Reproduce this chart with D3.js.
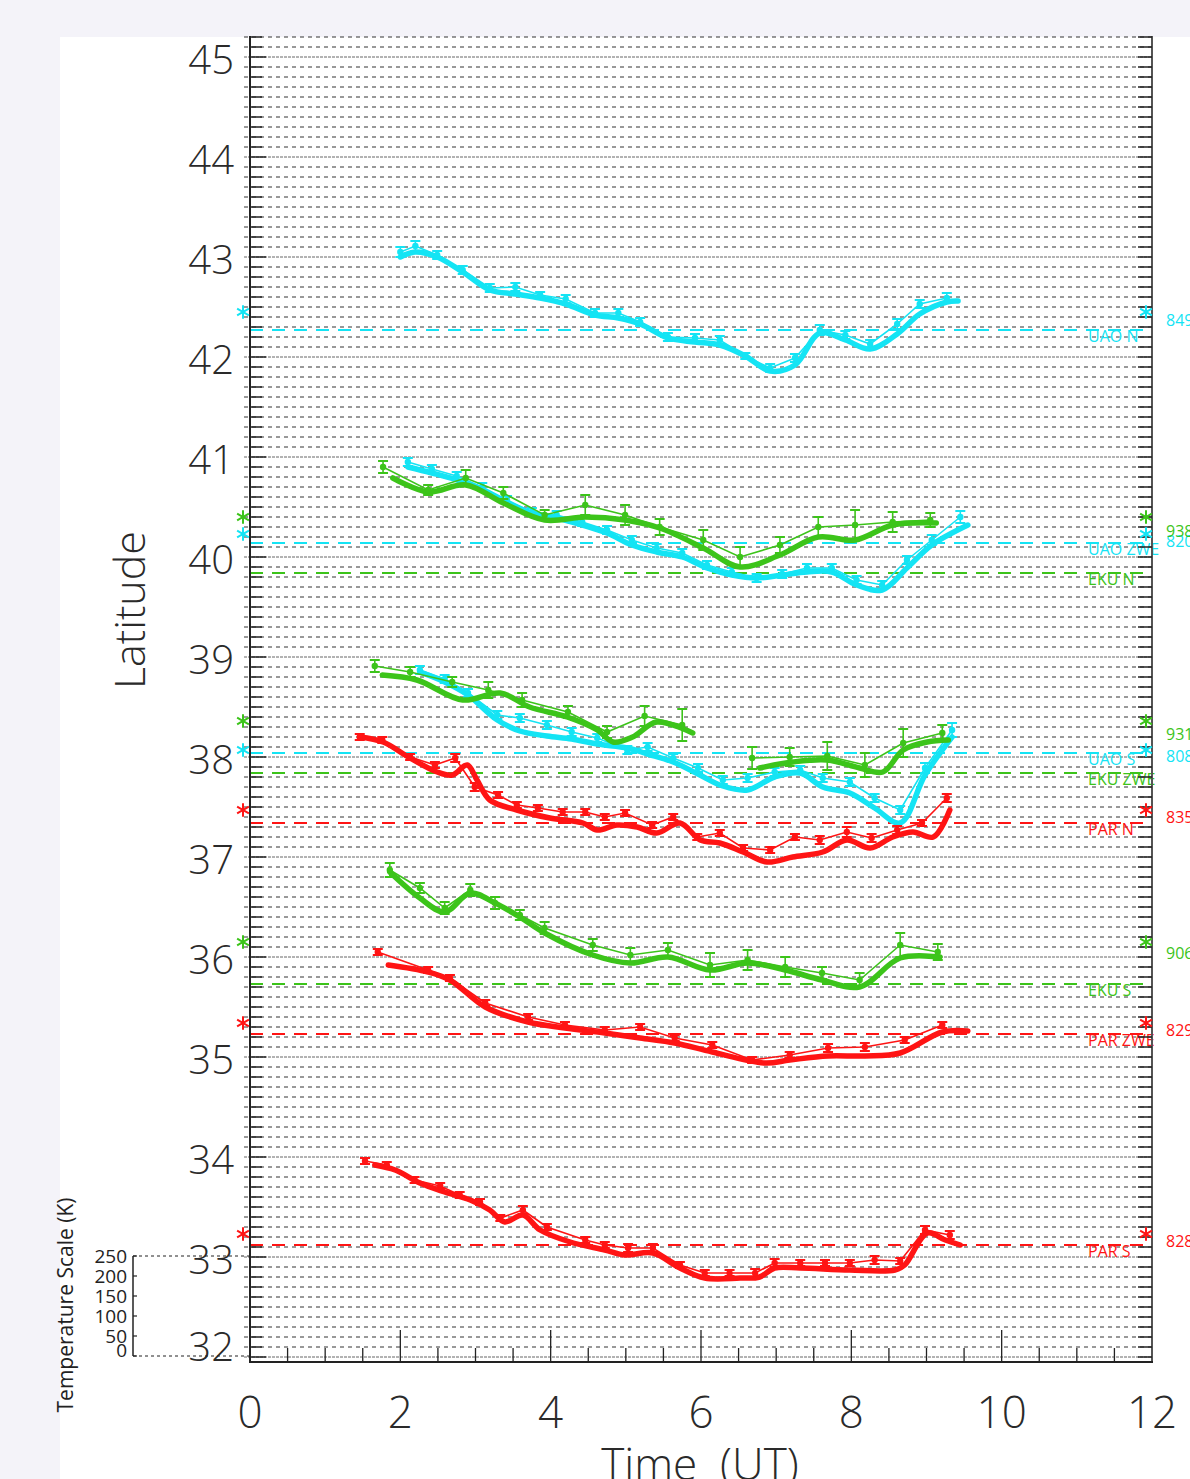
<!DOCTYPE html>
<html>
<head>
<meta charset="utf-8">
<script src="https://cdn.jsdelivr.net/npm/d3@7"></script>
<style>
  body { margin: 0; background: #f4f3f9; }
  svg { display: block; }
</style>
</head>
<body>
<div id="main-section"></div>
<script>
// ---- data (time in UT hours, latitude in degrees) ----
const xTicks = [0, 2, 4, 6, 8, 10, 12];
const yTicks = [32, 33, 34, 35, 36, 37, 38, 39, 40, 41, 42, 43, 44, 45];
const tempTicks = [0, 50, 100, 150, 200, 250];

const stationNames = ["UAO N", "UAO ZWE", "EKU N", "UAO S", "EKU ZWE", "PAR N", "EKU S", "PAR ZWE", "PAR S"];
const stationColors = ["cyan", "cyan", "green", "cyan", "green", "red", "green", "red", "red"];
const stationLat = [42.27, 40.14, 39.84, 38.04, 37.84, 37.34, 35.73, 35.23, 33.12];
const starLat = [42.45, 40.23, 40.40, 38.07, 38.36, 37.47, 36.15, 35.34, 33.23];
const tempValues = ["849", "820", "938", "808", "931", "835", "906", "829", "828"];
const tempLabelLat = [42.37, 40.16, 40.26, 38.01, 38.23, 37.40, 36.04, 35.27, 33.16];

// UAO N
const uaoN_t   = [2.00, 2.20, 2.49, 2.83, 3.19, 3.53, 3.86, 4.20, 4.59, 4.90, 5.19, 5.56, 5.92, 6.25, 6.59, 6.92, 7.25, 7.58, 7.92, 8.25, 8.61, 8.91, 9.27];
const uaoN_lat = [43.05, 43.11, 43.02, 42.87, 42.69, 42.70, 42.62, 42.58, 42.44, 42.44, 42.35, 42.20, 42.19, 42.17, 42.01, 41.89, 41.99, 42.27, 42.22, 42.13, 42.33, 42.53, 42.59];
const uaoN_err = [0.05, 0.05, 0.04, 0.04, 0.04, 0.04, 0.03, 0.04, 0.04, 0.04, 0.04, 0.04, 0.04, 0.04, 0.03, 0.04, 0.04, 0.05, 0.04, 0.04, 0.05, 0.04, 0.05];
const uaoN_fitT = [2.00, 2.20, 2.49, 2.83, 3.19, 3.53, 3.86, 4.20, 4.59, 4.90, 5.19, 5.56, 5.92, 6.25, 6.59, 6.92, 7.25, 7.58, 7.92, 8.25, 8.61, 8.91, 9.27, 9.42];
const uaoN_fit  = [43.00, 43.05, 43.00, 42.85, 42.67, 42.63, 42.59, 42.53, 42.42, 42.39, 42.33, 42.19, 42.15, 42.12, 42.01, 41.86, 41.92, 42.24, 42.17, 42.08, 42.23, 42.43, 42.55, 42.56];

// UAO ZWE
const uaoZ_t   = [2.10, 2.42, 2.75, 3.09, 3.42, 3.75, 4.08, 4.42, 4.75, 5.08, 5.41, 5.75, 6.08, 6.41, 6.74, 7.08, 7.41, 7.74, 8.07, 8.41, 8.74, 9.07, 9.45];
const uaoZ_lat = [40.95, 40.88, 40.81, 40.70, 40.57, 40.45, 40.42, 40.35, 40.27, 40.17, 40.09, 40.04, 39.92, 39.85, 39.79, 39.83, 39.89, 39.89, 39.77, 39.72, 39.97, 40.17, 40.40];
const uaoZ_err = [0.04, 0.04, 0.04, 0.04, 0.04, 0.04, 0.04, 0.04, 0.04, 0.04, 0.04, 0.04, 0.04, 0.04, 0.04, 0.04, 0.04, 0.04, 0.04, 0.04, 0.04, 0.05, 0.06];
const uaoZ_fitT = [2.10, 2.42, 2.75, 3.09, 3.42, 3.75, 4.08, 4.42, 4.75, 5.08, 5.41, 5.75, 6.08, 6.41, 6.74, 7.08, 7.41, 7.74, 8.07, 8.41, 8.74, 9.07, 9.55];
const uaoZ_fit  = [40.90, 40.84, 40.77, 40.67, 40.54, 40.44, 40.39, 40.32, 40.24, 40.12, 40.05, 40.00, 39.89, 39.82, 39.79, 39.82, 39.85, 39.85, 39.72, 39.67, 39.89, 40.12, 40.32];

// EKU N
const ekuN_t   = [1.77, 2.37, 2.87, 3.37, 3.92, 4.46, 4.99, 5.45, 6.03, 6.52, 7.05, 7.56, 8.05, 8.55, 9.05];
const ekuN_lat = [40.90, 40.67, 40.79, 40.64, 40.42, 40.52, 40.42, 40.30, 40.17, 40.00, 40.12, 40.30, 40.32, 40.35, 40.37];
const ekuN_err = [0.06, 0.05, 0.08, 0.06, 0.05, 0.10, 0.10, 0.08, 0.10, 0.10, 0.08, 0.10, 0.15, 0.10, 0.07];
const ekuN_fitT = [1.90, 2.37, 2.87, 3.37, 3.92, 4.46, 4.99, 5.45, 6.03, 6.52, 7.05, 7.56, 8.05, 8.55, 9.13];
const ekuN_fit  = [40.79, 40.65, 40.72, 40.54, 40.37, 40.40, 40.37, 40.29, 40.09, 39.90, 40.02, 40.20, 40.17, 40.32, 40.34];

// UAO S
const uaoS_t   = [2.26, 2.59, 2.90, 3.29, 3.59, 3.95, 4.28, 4.62, 5.02, 5.29, 5.63, 5.96, 6.29, 6.62, 6.98, 7.32, 7.62, 7.98, 8.31, 8.65, 8.98, 9.34];
const uaoS_lat = [38.87, 38.78, 38.64, 38.42, 38.39, 38.32, 38.25, 38.19, 38.07, 38.10, 37.99, 37.89, 37.77, 37.79, 37.85, 37.87, 37.79, 37.75, 37.59, 37.47, 37.89, 38.27];
const uaoS_err = [0.04, 0.04, 0.04, 0.04, 0.04, 0.04, 0.04, 0.04, 0.04, 0.04, 0.04, 0.04, 0.04, 0.04, 0.04, 0.04, 0.04, 0.04, 0.04, 0.04, 0.05, 0.07];
const uaoS_fitT = [2.26, 2.59, 2.90, 3.29, 3.59, 3.95, 4.28, 4.62, 5.02, 5.29, 5.63, 5.96, 6.29, 6.62, 6.98, 7.32, 7.62, 7.98, 8.31, 8.65, 8.98, 9.34];
const uaoS_fit  = [38.85, 38.75, 38.62, 38.37, 38.26, 38.21, 38.18, 38.13, 38.09, 38.03, 37.95, 37.83, 37.71, 37.67, 37.80, 37.84, 37.70, 37.64, 37.49, 37.34, 37.82, 38.20];

// EKU ZWE (two pieces, data gap near 6.3 UT)
const ekuZa_t   = [1.66, 2.13, 2.69, 3.17, 3.62, 4.23, 4.75, 5.25, 5.75];
const ekuZa_lat = [38.91, 38.85, 38.75, 38.67, 38.57, 38.45, 38.25, 38.41, 38.32];
const ekuZa_err = [0.06, 0.05, 0.05, 0.08, 0.07, 0.06, 0.06, 0.10, 0.16];
const ekuZa_fitT = [1.76, 2.22, 2.83, 3.33, 3.72, 4.22, 4.62, 4.83, 5.09, 5.41, 5.89];
const ekuZa_fit  = [38.82, 38.77, 38.57, 38.64, 38.50, 38.40, 38.27, 38.15, 38.20, 38.35, 38.24];
const ekuZb_t   = [6.68, 7.18, 7.68, 8.18, 8.69, 9.21];
const ekuZb_lat = [37.99, 38.00, 38.01, 37.92, 38.14, 38.24];
const ekuZb_err = [0.11, 0.09, 0.14, 0.12, 0.14, 0.08];
const ekuZb_fitT = [6.78, 7.22, 7.68, 8.11, 8.42, 8.69, 9.01, 9.29];
const ekuZb_fit  = [37.89, 37.95, 37.97, 37.89, 37.85, 38.07, 38.15, 38.17];

// PAR N
const parN_t   = [1.46, 1.76, 2.13, 2.46, 2.73, 2.99, 3.30, 3.55, 3.83, 4.16, 4.46, 4.72, 4.99, 5.35, 5.63, 5.95, 6.25, 6.56, 6.92, 7.25, 7.58, 7.94, 8.27, 8.61, 8.94, 9.27];
const parN_lat = [38.20, 38.17, 38.00, 37.92, 37.99, 37.70, 37.62, 37.52, 37.49, 37.45, 37.45, 37.40, 37.44, 37.32, 37.40, 37.20, 37.24, 37.09, 37.07, 37.20, 37.17, 37.25, 37.19, 37.27, 37.34, 37.59];
const parN_err = [0.03, 0.03, 0.03, 0.03, 0.04, 0.04, 0.03, 0.03, 0.03, 0.03, 0.03, 0.03, 0.03, 0.03, 0.03, 0.03, 0.03, 0.03, 0.03, 0.03, 0.04, 0.05, 0.04, 0.04, 0.03, 0.04];
const parN_fitT = [1.46, 1.77, 2.13, 2.49, 2.69, 2.89, 3.02, 3.19, 3.55, 3.99, 4.43, 4.62, 4.88, 5.15, 5.41, 5.72, 5.99, 6.25, 6.56, 6.88, 7.22, 7.62, 7.94, 8.25, 8.55, 8.82, 9.09, 9.31];
const parN_fit  = [38.20, 38.15, 37.99, 37.85, 37.82, 37.92, 37.77, 37.57, 37.47, 37.39, 37.34, 37.27, 37.32, 37.30, 37.24, 37.34, 37.17, 37.14, 37.05, 36.95, 37.00, 37.05, 37.17, 37.09, 37.20, 37.25, 37.20, 37.47];

// EKU S
const ekuS_t   = [1.86, 2.26, 2.59, 2.93, 3.26, 3.59, 3.92, 4.56, 5.06, 5.56, 6.12, 6.62, 7.12, 7.61, 8.11, 8.65, 9.15];
const ekuS_lat = [36.87, 36.69, 36.49, 36.67, 36.54, 36.42, 36.29, 36.12, 36.02, 36.07, 35.92, 35.97, 35.90, 35.84, 35.77, 36.12, 36.05];
const ekuS_err = [0.07, 0.05, 0.06, 0.06, 0.06, 0.05, 0.06, 0.06, 0.07, 0.07, 0.12, 0.10, 0.10, 0.06, 0.07, 0.12, 0.08];
const ekuS_fitT = [1.86, 2.26, 2.59, 2.93, 3.26, 3.59, 3.92, 4.56, 5.06, 5.56, 6.12, 6.62, 7.12, 7.61, 8.11, 8.65, 9.18];
const ekuS_fit  = [36.85, 36.59, 36.45, 36.64, 36.54, 36.40, 36.24, 36.02, 35.94, 36.00, 35.87, 35.94, 35.87, 35.77, 35.70, 35.99, 36.00];

// PAR ZWE
const parZ_t   = [1.70, 2.37, 2.66, 3.13, 3.70, 4.19, 4.72, 5.19, 5.65, 6.15, 6.68, 7.18, 7.69, 8.18, 8.71, 9.21];
const parZ_lat = [36.05, 35.87, 35.79, 35.54, 35.40, 35.32, 35.27, 35.30, 35.19, 35.12, 34.97, 35.02, 35.09, 35.10, 35.17, 35.32];
const parZ_err = [0.03, 0.03, 0.03, 0.03, 0.03, 0.03, 0.03, 0.03, 0.03, 0.03, 0.03, 0.03, 0.04, 0.04, 0.03, 0.03];
const parZ_fitT = [1.84, 2.37, 2.66, 3.13, 3.70, 4.19, 4.72, 5.19, 5.65, 6.15, 6.85, 7.18, 7.69, 8.18, 8.65, 9.21, 9.55];
const parZ_fit  = [35.92, 35.85, 35.77, 35.50, 35.35, 35.29, 35.24, 35.19, 35.14, 35.05, 34.94, 34.97, 35.01, 35.01, 35.04, 35.25, 35.26];

// PAR S
const parS_t   = [1.53, 1.82, 2.19, 2.53, 2.79, 3.06, 3.33, 3.63, 3.95, 4.46, 4.72, 5.03, 5.36, 5.72, 6.05, 6.38, 6.72, 6.98, 7.32, 7.65, 7.98, 8.31, 8.65, 8.98, 9.31];
const parS_lat = [33.96, 33.92, 33.77, 33.71, 33.62, 33.55, 33.39, 33.47, 33.30, 33.17, 33.12, 33.09, 33.09, 32.92, 32.84, 32.84, 32.84, 32.94, 32.94, 32.94, 32.94, 32.97, 32.96, 33.27, 33.22];
const parS_err = [0.03, 0.03, 0.03, 0.03, 0.03, 0.03, 0.03, 0.04, 0.03, 0.03, 0.03, 0.04, 0.04, 0.03, 0.03, 0.03, 0.04, 0.04, 0.03, 0.03, 0.03, 0.04, 0.03, 0.04, 0.04];
const parS_fitT = [1.66, 1.93, 2.26, 2.59, 2.93, 3.19, 3.39, 3.63, 3.86, 4.26, 4.72, 4.99, 5.36, 5.72, 6.05, 6.52, 6.78, 6.98, 7.32, 7.98, 8.58, 8.71, 9.01, 9.25, 9.45];
const parS_fit  = [33.92, 33.87, 33.74, 33.65, 33.57, 33.47, 33.35, 33.42, 33.27, 33.15, 33.07, 33.02, 33.04, 32.89, 32.79, 32.79, 32.80, 32.89, 32.89, 32.87, 32.87, 32.92, 33.24, 33.17, 33.12];

const colors = { cyan: "#14e4f4", green: "#3cc41a", red: "#ff1414" };

const series = [
  { color: "cyan",  t: uaoN_t,  lat: uaoN_lat,  err: uaoN_err,  fitT: uaoN_fitT,  fit: uaoN_fit },
  { color: "cyan",  t: uaoZ_t,  lat: uaoZ_lat,  err: uaoZ_err,  fitT: uaoZ_fitT,  fit: uaoZ_fit },
  { color: "green", t: ekuN_t,  lat: ekuN_lat,  err: ekuN_err,  fitT: ekuN_fitT,  fit: ekuN_fit },
  { color: "cyan",  t: uaoS_t,  lat: uaoS_lat,  err: uaoS_err,  fitT: uaoS_fitT,  fit: uaoS_fit },
  { color: "green", t: ekuZa_t, lat: ekuZa_lat, err: ekuZa_err, fitT: ekuZa_fitT, fit: ekuZa_fit },
  { color: "green", t: ekuZb_t, lat: ekuZb_lat, err: ekuZb_err, fitT: ekuZb_fitT, fit: ekuZb_fit },
  { color: "red",   t: parN_t,  lat: parN_lat,  err: parN_err,  fitT: parN_fitT,  fit: parN_fit },
  { color: "green", t: ekuS_t,  lat: ekuS_lat,  err: ekuS_err,  fitT: ekuS_fitT,  fit: ekuS_fit },
  { color: "red",   t: parZ_t,  lat: parZ_lat,  err: parZ_err,  fitT: parZ_fitT,  fit: parZ_fit },
  { color: "red",   t: parS_t,  lat: parS_lat,  err: parS_err,  fitT: parS_fitT,  fit: parS_fit }
];

// ---- layout ----
const W = 1190, H = 1479;
const FONT = "'Open Sans', 'DejaVu Sans', sans-serif";

const x = d3.scaleLinear().domain([0, 12]).range([250, 1152]);
const y = d3.scaleLinear().domain([31.95, 45.2]).range([1362, 37]);
const tScale = d3.scaleLinear().domain([0, 250]).range([1356, 1256]);

const svg = d3.select("#main-section")
  .append("svg")
    .attr("width", W)
    .attr("height", H);

svg.append("rect").attr("width", W).attr("height", H).attr("fill", "#f4f3f9");
svg.append("rect").attr("x", 60).attr("y", 37).attr("width", W - 60).attr("height", H - 37).attr("fill", "white");

function bigText(sel) {
  return sel
    .attr("font-family", FONT)
    .attr("font-weight", 300)
    .attr("fill", "#2a2a2a");
}

// grid lines every 0.1 degree
const gridLats = d3.range(320, 453).map(function(v) { return v / 10; });
function isInt(d) { return Math.abs(d - Math.round(d)) < 1e-6; }

svg.append("g")
  .selectAll("line")
  .data(gridLats).enter()
  .append("line")
    .attr("x1", 244)
    .attr("x2", 1152)
    .attr("y1", function(d) { return y(d); })
    .attr("y2", function(d) { return y(d); })
    .attr("stroke", function(d) { return isInt(d) ? "#666" : "#333"; })
    .attr("stroke-width", 1)
    .attr("stroke-dasharray", function(d) { return isInt(d) ? "3,1" : "4,4"; });

// station reference lines and names
svg.append("g")
  .selectAll("line")
  .data(stationLat).enter()
  .append("line")
    .attr("x1", 250)
    .attr("x2", 1150)
    .attr("y1", function(d) { return y(d); })
    .attr("y2", function(d) { return y(d); })
    .attr("stroke", function(d, i) { return colors[stationColors[i]]; })
    .attr("stroke-width", 2)
    .attr("stroke-dasharray", "13,9");

svg.append("g")
  .selectAll("text")
  .data(stationNames).enter()
  .append("text")
    .attr("x", 1088)
    .attr("y", function(d, i) { return y(stationLat[i]) + 12; })
    .attr("font-family", FONT)
    .attr("font-size", 16)
    .attr("fill", function(d, i) { return colors[stationColors[i]]; })
    .text(function(d) { return d; });

// series: thick smoothed line, thin observed line, error bars, markers
const thick = d3.line()
  .x(function(d) { return x(d[0]); })
  .y(function(d) { return y(d[1]); })
  .curve(d3.curveCatmullRom.alpha(0.5));

const thin = d3.line()
  .x(function(d) { return x(d[0]); })
  .y(function(d) { return y(d[1]); });

series.forEach(function(s) {
  const col = colors[s.color];
  const g = svg.append("g");
  const pts = s.t.map(function(t, i) { return [t, s.lat[i], s.err[i]]; });
  const fitPts = s.fitT.map(function(t, i) { return [t, s.fit[i]]; });

  g.append("path")
    .attr("d", thin(pts))
    .attr("fill", "none")
    .attr("stroke", col)
    .attr("stroke-width", 1.6);

  g.append("path")
    .attr("d", thick(fitPts))
    .attr("fill", "none")
    .attr("stroke", col)
    .attr("stroke-width", 5.5)
    .attr("stroke-linecap", "round")
    .attr("stroke-linejoin", "round");

  const eb = g.selectAll("g.eb")
    .data(pts).enter()
    .append("g");

  eb.append("line")
    .attr("x1", function(d) { return x(d[0]); })
    .attr("x2", function(d) { return x(d[0]); })
    .attr("y1", function(d) { return y(d[1] - d[2]); })
    .attr("y2", function(d) { return y(d[1] + d[2]); })
    .attr("stroke", col)
    .attr("stroke-width", 1.6);

  [-1, 1].forEach(function(sign) {
    eb.append("line")
      .attr("x1", function(d) { return x(d[0]) - 5; })
      .attr("x2", function(d) { return x(d[0]) + 5; })
      .attr("y1", function(d) { return y(d[1] + sign * d[2]); })
      .attr("y2", function(d) { return y(d[1] + sign * d[2]); })
      .attr("stroke", col)
      .attr("stroke-width", 2);
  });

  eb.append("circle")
    .attr("cx", function(d) { return x(d[0]); })
    .attr("cy", function(d) { return y(d[1]); })
    .attr("r", 3.2)
    .attr("fill", col);
});

// axes
svg.append("line").attr("x1", 250).attr("x2", 250).attr("y1", 36).attr("y2", 1363).attr("stroke", "#222").attr("stroke-width", 2);
svg.append("line").attr("x1", 1152).attr("x2", 1152).attr("y1", 36).attr("y2", 1363).attr("stroke", "#555").attr("stroke-width", 2);
svg.append("line").attr("x1", 249).attr("x2", 1153).attr("y1", 1362).attr("y2", 1362).attr("stroke", "#222").attr("stroke-width", 2);

// latitude ticks, left and right
svg.append("g")
  .selectAll("line")
  .data(gridLats).enter()
  .append("line")
    .attr("x1", 250)
    .attr("x2", function(d) { return isInt(d) ? 266 : 262; })
    .attr("y1", function(d) { return y(d); })
    .attr("y2", function(d) { return y(d); })
    .attr("stroke", "#222")
    .attr("stroke-width", 1.5);

svg.append("g")
  .selectAll("line")
  .data(gridLats).enter()
  .append("line")
    .attr("x1", 1138)
    .attr("x2", 1152)
    .attr("y1", function(d) { return y(d); })
    .attr("y2", function(d) { return y(d); })
    .attr("stroke", "#222")
    .attr("stroke-width", 1.5);

// time ticks every half hour
svg.append("g")
  .selectAll("line")
  .data(d3.range(1, 24).map(function(v) { return v / 2; })).enter()
  .append("line")
    .attr("x1", function(d) { return x(d); })
    .attr("x2", function(d) { return x(d); })
    .attr("y1", function(d) { return d % 2 === 0 ? 1330 : 1348; })
    .attr("y2", 1362)
    .attr("stroke", "#222")
    .attr("stroke-width", 1.3);

// tick labels
svg.append("g")
  .selectAll("text")
  .data(yTicks).enter()
  .append("text")
    .attr("x", 234)
    .attr("y", function(d) { return Math.min(y(d) + 3, 1347); })
    .attr("dy", "0.36em")
    .attr("text-anchor", "end")
    .attr("font-size", 40)
    .call(bigText)
    .text(function(d) { return d; });

svg.append("g")
  .selectAll("text")
  .data(xTicks).enter()
  .append("text")
    .attr("x", function(d) { return x(d); })
    .attr("y", 1412)
    .attr("dy", "0.36em")
    .attr("text-anchor", "middle")
    .attr("font-size", 44)
    .call(bigText)
    .text(function(d) { return d; });

// axis titles
svg.append("text")
  .attr("x", 700)
  .attr("y", 1480)
  .attr("text-anchor", "middle")
  .attr("font-size", 44)
  .attr("xml:space", "preserve")
  .call(bigText)
  .text("Time  (UT)");

svg.append("text")
  .attr("transform", "translate(145, 610) rotate(-90)")
  .attr("text-anchor", "middle")
  .attr("font-size", 43)
  .call(bigText)
  .text("Latitude");

// temperature scale
svg.append("line").attr("x1", 133).attr("x2", 133).attr("y1", tScale(250)).attr("y2", tScale(0)).attr("stroke", "#222").attr("stroke-width", 1.5);

svg.append("g")
  .selectAll("line")
  .data([0, 250]).enter()
  .append("line")
    .attr("x1", 133)
    .attr("x2", 250)
    .attr("y1", function(d) { return tScale(d); })
    .attr("y2", function(d) { return tScale(d); })
    .attr("stroke", "#222")
    .attr("stroke-width", 1)
    .attr("stroke-dasharray", "3,3");

svg.append("g")
  .selectAll("line")
  .data(tempTicks).enter()
  .append("line")
    .attr("x1", 133)
    .attr("x2", 137)
    .attr("y1", function(d) { return tScale(d); })
    .attr("y2", function(d) { return tScale(d); })
    .attr("stroke", "#222")
    .attr("stroke-width", 1.2);

svg.append("g")
  .selectAll("text")
  .data(tempTicks).enter()
  .append("text")
    .attr("x", 127)
    .attr("y", function(d) { return d === 0 ? tScale(d) - 6 : tScale(d); })
    .attr("dy", "0.36em")
    .attr("text-anchor", "end")
    .attr("font-family", FONT)
    .attr("font-size", 19)
    .attr("fill", "#222")
    .text(function(d) { return d; });

svg.append("text")
  .attr("transform", "translate(73, 1305) rotate(-90)")
  .attr("text-anchor", "middle")
  .attr("font-family", FONT)
  .attr("font-size", 21)
  .attr("fill", "#222")
  .text("Temperature Scale (K)");

// asterisk markers on both axes and temperature values
const star = d3.symbol().type(d3.symbolAsterisk).size(130);

[243, 1146].forEach(function(sx) {
  svg.append("g")
    .selectAll("path")
    .data(starLat).enter()
    .append("path")
      .attr("d", star)
      .attr("transform", function(d) { return "translate(" + sx + "," + y(d) + ")"; })
      .attr("fill", "none")
      .attr("stroke", function(d, i) { return colors[stationColors[i]]; })
      .attr("stroke-width", 2);
});

svg.append("g")
  .selectAll("text")
  .data(tempValues).enter()
  .append("text")
    .attr("x", 1166)
    .attr("y", function(d, i) { return y(tempLabelLat[i]); })
    .attr("dy", "0.36em")
    .attr("font-family", FONT)
    .attr("font-size", 16)
    .attr("fill", function(d, i) { return colors[stationColors[i]]; })
    .text(function(d) { return d; });
</script>
</body>
</html>
